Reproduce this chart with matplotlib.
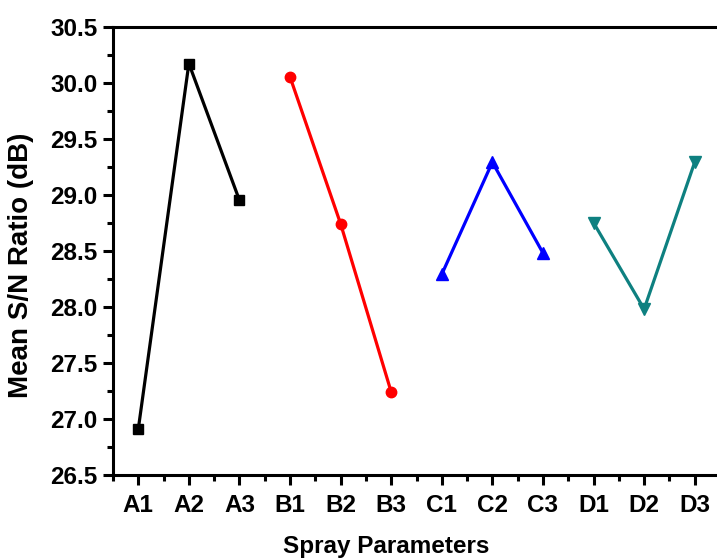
import matplotlib
matplotlib.use("Agg")
import matplotlib.pyplot as plt
from matplotlib.ticker import MultipleLocator, FormatStrFormatter
import numpy as np

plt.rcParams['font.family'] = ['Liberation Sans', 'DejaVu Sans']
plt.rcParams['font.weight'] = 'bold'

labels = ['A1', 'A2', 'A3', 'B1', 'B2', 'B3', 'C1', 'C2', 'C3', 'D1', 'D2', 'D3']
a_vals = [26.91, 30.17, 28.95]
b_vals = [30.05, 28.74, 27.24]
c_vals = [28.29, 29.29, 28.48]
d_vals = [28.75, 27.98, 29.29]

W, H = 717, 559
fig = plt.figure(figsize=(W / 100, H / 100), dpi=100)
# axes box in pixels: left 113, right 720 (cut off), top 26.5, bottom 475
ax = fig.add_axes([113 / W, 1 - 475 / H, (720 - 113) / W, (475 - 26.5) / H])

x = np.arange(1, 13)
ax.plot(x[0:3], a_vals, color='black', lw=2.3, marker='s', ms=6.5)
ax.plot(x[3:6], b_vals, color='#ff0000', lw=2.3, marker='o', ms=7.5)
ax.plot(x[6:9], c_vals, color='#0000ff', lw=2.3, marker='^', ms=9)
ax.plot(x[9:12], d_vals, color='#0e8080', lw=2.3, marker='v', ms=9)

ax.set_xlim(0.5, 12.5)
ax.set_ylim(26.5, 30.5)
ax.set_xticks(x)
ax.set_xticklabels(labels)
ax.xaxis.set_minor_locator(MultipleLocator(0.5))
ax.yaxis.set_major_locator(MultipleLocator(0.5))
ax.yaxis.set_minor_locator(MultipleLocator(0.25))
ax.yaxis.set_major_formatter(FormatStrFormatter('%.1f'))

for s in ax.spines.values():
    s.set_linewidth(2.2)
ax.tick_params(which='major', direction='out', length=7, width=2.2, labelsize=17.5)
ax.tick_params(which='minor', direction='out', length=4, width=2.2)
ax.tick_params(axis='x', which='major', pad=7)
ax.tick_params(axis='y', which='major', pad=4)

fig.text(386 / W, 1 - 553 / H, 'Spray Parameters', fontsize=17.5, fontweight='bold',
         ha='center', va='baseline')
fig.text(21 / W, 1 - 265 / H, 'Mean S/N Ratio (dB)', fontsize=20, fontweight='bold',
         ha='center', va='center', rotation=90)

fig.savefig('out.png', dpi=100)
